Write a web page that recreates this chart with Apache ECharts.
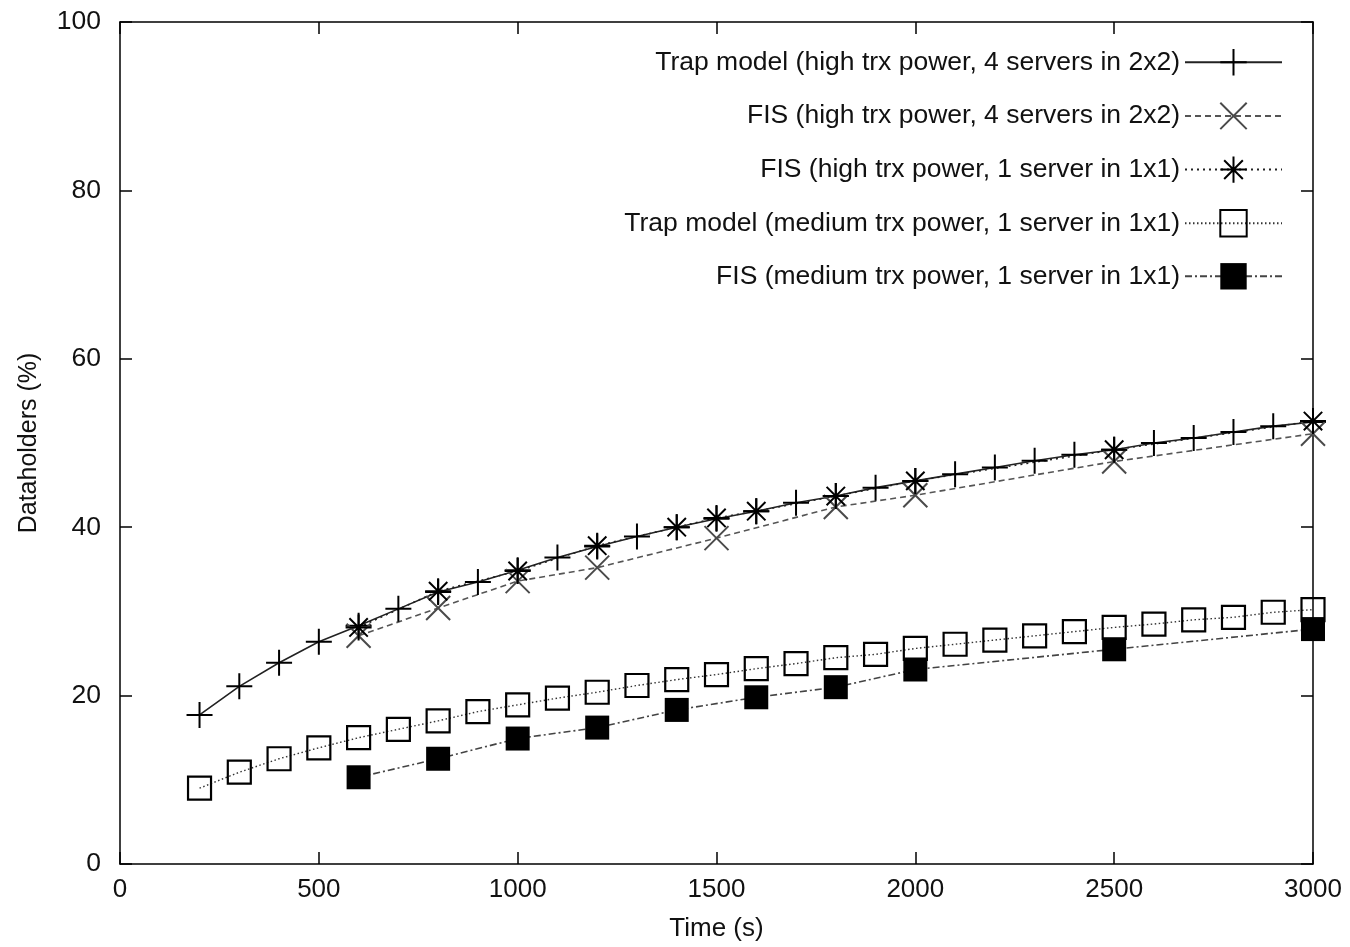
<!DOCTYPE html>
<html>
<head>
<meta charset="utf-8">
<script src="https://cdn.jsdelivr.net/npm/echarts@6/dist/echarts.min.js"></script>
<style>
html,body{margin:0;padding:0;background:#fff;}
#chart{width:1350px;height:947px;}
</style>
</head>
<body>
<div id="chart"></div>
<script>
// ---- data ----
const seriesNames = [
  'Trap model (high trx power, 4 servers in 2x2)',
  'FIS (high trx power, 4 servers in 2x2)',
  'FIS (high trx power, 1 server in 1x1)',
  'Trap model (medium trx power, 1 server in 1x1)',
  'FIS (medium trx power, 1 server in 1x1)'
];
const trapHighX = [200,300,400,500,600,700,800,900,1000,1100,1200,1300,1400,1500,1600,1700,1800,1900,2000,2100,2200,2300,2400,2500,2600,2700,2800,2900,3000];
const trapHighY = [17.7,21.1,23.9,26.4,28.3,30.3,32.3,33.5,34.9,36.4,37.7,38.9,40.0,41.0,41.9,42.9,43.7,44.7,45.5,46.3,47.1,47.9,48.6,49.2,50.0,50.6,51.3,52.0,52.5];
const fisHigh4X = [600,800,1000,1200,1500,1800,2000,2500,3000];
const fisHigh4Y = [27.1,30.4,33.6,35.2,38.7,42.4,43.8,47.8,51.1];
const fisHigh1X = [600,800,1000,1200,1400,1500,1600,1800,2000,2500,3000];
const fisHigh1Y = [28.1,32.4,34.8,37.8,40.0,41.1,41.9,43.7,45.5,49.2,52.6];
const trapMedX = [200,300,400,500,600,700,800,900,1000,1100,1200,1300,1400,1500,1600,1700,1800,1900,2000,2100,2200,2300,2400,2500,2600,2700,2800,2900,3000];
const trapMedY = [9.0,10.9,12.5,13.8,15.0,16.0,17.0,18.1,18.9,19.7,20.4,21.2,21.9,22.5,23.2,23.8,24.5,24.9,25.6,26.1,26.6,27.1,27.6,28.1,28.5,29.0,29.3,29.9,30.2];
const fisMedX = [600,800,1000,1200,1400,1600,1800,2000,2500,3000];
const fisMedY = [10.3,12.5,14.9,16.2,18.3,19.8,21.0,23.1,25.5,27.9];
const xTicks = {min:0, max:3000, interval:500};
const yTicks = {min:0, max:100, interval:20};

function pairs(xs, ys){ return xs.map((x,i)=>[x, ys[i]]); }

const FONT = '"Liberation Sans", Arial, sans-serif';
const PLUS = 'path://M10,0L10,20M0,10L20,10';
const CROSS = 'path://M0,0L20,20M20,0L0,20';
const STAR = 'path://M10,0L10,20M0,10L20,10M2.93,2.93L17.07,17.07M17.07,2.93L2.93,17.07';

const chart = echarts.init(document.getElementById('chart'), null, {renderer:'canvas'});

const axisCommon = {
  axisLine:{show:true, onZero:false, lineStyle:{color:'#000', width:1.5}},
  axisTick:{show:true, inside:true, length:12, lineStyle:{color:'#000', width:1.5}},
  splitLine:{show:false}
};
const plainNum = v => String(v);

const option = {
  backgroundColor:'#fff',
  animation:false,
  grid:{left:120, right:37, top:22, bottom:82},
  xAxis:[
    Object.assign({type:'value', position:'bottom', min:xTicks.min, max:xTicks.max, interval:xTicks.interval,
      name:'Time (s)', nameLocation:'middle', nameGap:52,
      nameTextStyle:{fontFamily:FONT, fontSize:26, color:'#111'},
      axisLabel:{fontFamily:FONT, fontSize:26, color:'#111', margin:13, formatter:plainNum}}, axisCommon),
    Object.assign({type:'value', position:'top', min:xTicks.min, max:xTicks.max, interval:xTicks.interval,
      axisLabel:{show:false}}, axisCommon)
  ],
  yAxis:[
    Object.assign({type:'value', position:'left', min:yTicks.min, max:yTicks.max, interval:yTicks.interval,
      name:'Dataholders (%)', nameLocation:'middle', nameGap:78,
      nameTextStyle:{fontFamily:FONT, fontSize:25, color:'#111'},
      axisLabel:{fontFamily:FONT, fontSize:26.5, color:'#111', margin:19, formatter:plainNum}}, axisCommon),
    Object.assign({type:'value', position:'right', min:yTicks.min, max:yTicks.max, interval:yTicks.interval,
      axisLabel:{show:false}}, axisCommon)
  ],
  legend:{
    orient:'vertical', right:62, top:43, align:'right',
    itemWidth:97, itemHeight:33, itemGap:25.3,
    textStyle:{fontFamily:FONT, fontSize:26.5, color:'#111'},
    data:seriesNames
  },
  series:[
    {name:seriesNames[0], type:'line', data:pairs(trapHighX, trapHighY),
      symbol:PLUS, symbolSize:26,
      lineStyle:{color:'#222', width:1.6, type:'solid'},
      itemStyle:{color:'transparent', borderColor:'#000', borderWidth:2}},
    {name:seriesNames[1], type:'line', data:pairs(fisHigh4X, fisHigh4Y),
      symbol:CROSS, symbolSize:24,
      lineStyle:{color:'#555', width:1.6, type:[6,4]},
      itemStyle:{color:'transparent', borderColor:'#4a4a4a', borderWidth:2}},
    {name:seriesNames[2], type:'line', data:pairs(fisHigh1X, fisHigh1Y),
      symbol:STAR, symbolSize:26,
      lineStyle:{color:'#222', width:1.6, type:[2,4]},
      itemStyle:{color:'transparent', borderColor:'#000', borderWidth:2}},
    {name:seriesNames[3], type:'line', data:pairs(trapMedX, trapMedY),
      symbol:'rect', symbolSize:23,
      lineStyle:{color:'#333', width:1.4, type:[1.5,2.5]},
      itemStyle:{color:'transparent', borderColor:'#000', borderWidth:2.2}},
    {name:seriesNames[4], type:'line', data:pairs(fisMedX, fisMedY),
      symbol:'rect', symbolSize:24,
      lineStyle:{color:'#444', width:1.6, type:[7,3,2,3]},
      itemStyle:{color:'#000', borderColor:'#000', borderWidth:0}}
  ]
};
chart.setOption(option);
</script>
</body>
</html>
